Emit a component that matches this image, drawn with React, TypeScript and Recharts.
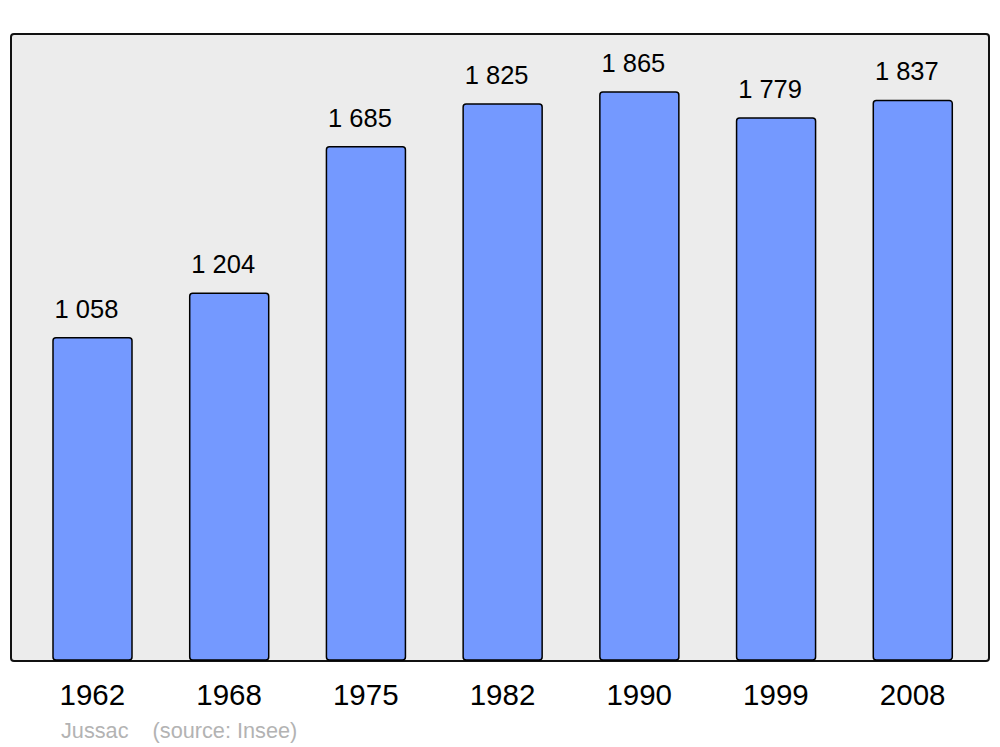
import { BarChart, Bar, XAxis, YAxis, LabelList } from "recharts";

const YEARS = ["1962", "1968", "1975", "1982", "1990", "1999", "2008"];
const POPULATION = [1058, 1204, 1685, 1825, 1865, 1779, 1837];

const data = YEARS.map((year, i) => ({ year, population: POPULATION[i] }));

const fmt = (v: number) => String(v).replace(/\B(?=(\d{3})+(?!\d))/g, " ");

export default function App() {
  return (
    <div
      style={{
        position: "absolute",
        left: 0,
        top: 0,
        width: 1000,
        height: 747,
        background: "#fff",
        fontFamily: "'Liberation Sans', Arial, sans-serif",
      }}
    >
      <div
        style={{
          position: "absolute",
          left: 10,
          top: 33,
          width: 980,
          height: 629,
          boxSizing: "border-box",
          border: "2.5px solid #111",
          borderRadius: 4,
          background: "#ececec",
        }}
      />
      <div style={{ position: "absolute", left: 0, top: 0 }}>
        <BarChart
          width={1000}
          height={747}
          data={data}
          margin={{ top: 34, right: 19, left: 24, bottom: 57 }}
        >
          <XAxis
            dataKey="year"
            height={30}
            axisLine={false}
            tickLine={false}
            tickSize={0}
            tickMargin={24}
            tick={{ fontSize: 29.5, fill: "#000", fontFamily: "'Liberation Sans', Arial, sans-serif" }}
            interval={0}
          />
          <YAxis hide domain={[0, 2055]} />
          <Bar
            dataKey="population"
            fill="#7499ff"
            stroke="#000"
            strokeWidth={1.5}
            barSize={79}
            radius={[3, 3, 3, 3]}
            isAnimationActive={false}
          >
            <LabelList
              dataKey="population"
              position="top"
              offset={20}
              dx={-6}
              formatter={(v: any) => fmt(Number(v))}
              style={{ fontSize: 25.5, fill: "#000", fontFamily: "'Liberation Sans', Arial, sans-serif" }}
            />
          </Bar>
        </BarChart>
      </div>
      <div
        style={{
          position: "absolute",
          left: 61,
          top: 718,
          fontSize: 21.7,
          color: "#b3b3b3",
          whiteSpace: "pre",
        }}
      >
        {"Jussac    (source: Insee)"}
      </div>
    </div>
  );
}
